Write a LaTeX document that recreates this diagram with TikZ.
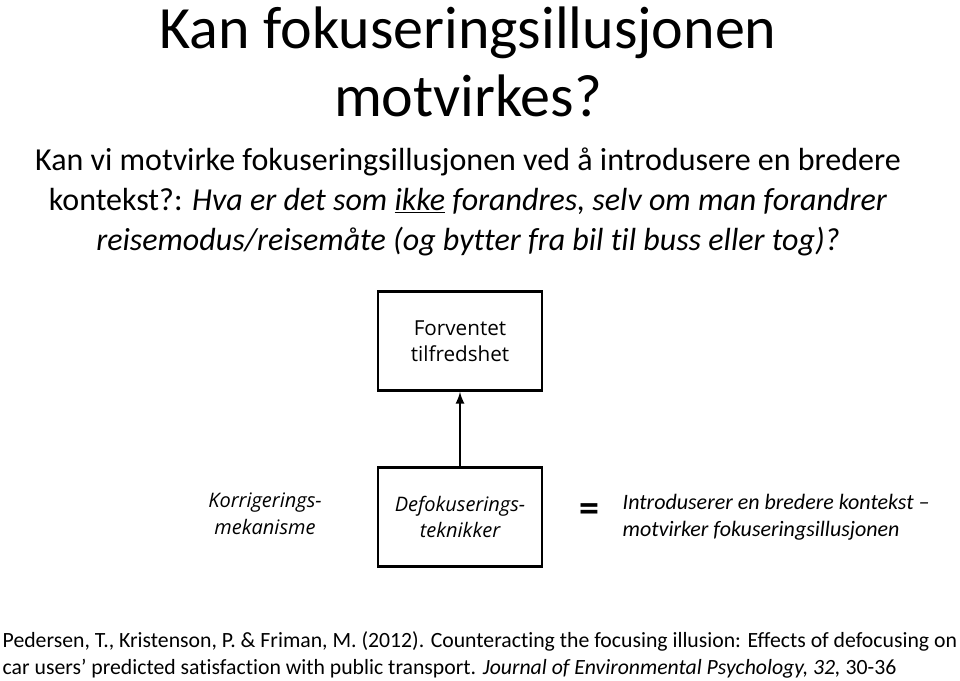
\documentclass[tikz,border=0pt]{standalone}
\usepackage{fontspec}
\setmainfont[Ligatures=NoCommon]{Carlito}
\newfontfamily\boksfont{Open Sans}
\begin{document}
\begin{tikzpicture}[x=0.75pt,y=-0.75pt,
    boks/.style={draw,line width=2.2pt,minimum width=123pt,minimum height=74pt,
      inner sep=0pt,align=center,font=\boksfont\fontsize{15.5}{19.5}\selectfont},
    sidetekst/.style={align=center,font=\boksfont\itshape\fontsize{15}{20}\selectfont}]
  \useasboundingbox (0,0) rectangle (960,681);
  % overskrift
  \node[align=center,font=\fontsize{45}{51}\selectfont] (tittel) at (468,62)
    {Kan fokuseringsillusjonen\\motvirkes?};
  \node[align=center,font=\fontsize{24}{30}\selectfont] (sporsmal) at (468,202)
    {Kan vi motvirke fokuseringsillusjonen ved å introdusere en bredere\\
     kontekst?: \textit{Hva er det som \underline{ikke} forandres, selv om man forandrer}\\
     \textit{reisemodus/reisemåte (og bytter fra bil til buss eller tog)?}};
  % bokser
  \node[boks] (forventet) at (460,341) {Forventet\\tilfredshet};
  \node[boks,line width=2pt,font=\boksfont\itshape\fontsize{15}{19}\selectfont] (defok) at (460,517)
    {Defokuserings-\\teknikker};
  \draw[-latex,line width=2pt] (defok) -- (forventet);
  % tekst ved siden av
  \node[sidetekst] (korr) at (265,514) {Korrigerings-\\mekanisme};
  \node[font=\bfseries\fontsize{30}{30}\selectfont] (lik) at (589,513) {=};
  \node[anchor=west,align=left,font=\itshape\fontsize{16.5}{20.5}\selectfont] (intro) at (618,517)
    {Introduserer en bredere kontekst –\\motvirker fokuseringsillusjonen};
  % referanse
  \node[anchor=west,align=left,font=\fontsize{16.3}{20.3}\selectfont] (ref) at (-2,655)
    {Pedersen, T., Kristenson, P. \& Friman, M. (2012). Counteracting the focusing illusion: Effects of defocusing on\\
     car users’ predicted satisfaction with public transport. \textit{Journal of Environmental Psychology, 32,} 30-36};
\end{tikzpicture}
\end{document}
